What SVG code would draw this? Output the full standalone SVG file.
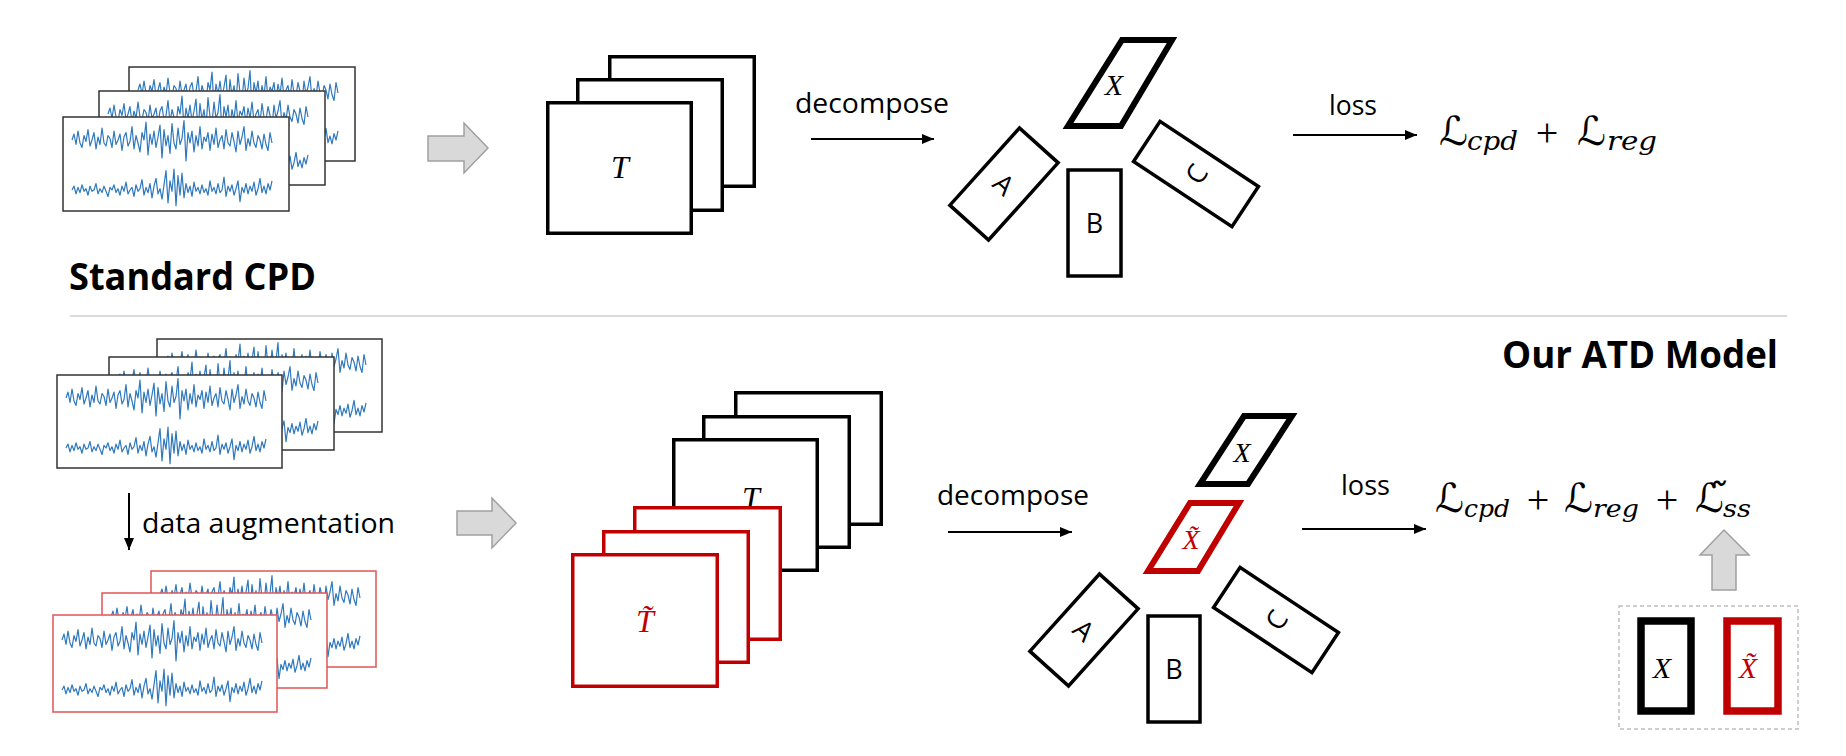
<svg xmlns="http://www.w3.org/2000/svg" xmlns:xlink="http://www.w3.org/1999/xlink" width="1846" height="756" viewBox="0 0 1846 756">
<style>
.bg{fill:#ffffff}
.panel{fill:#ffffff;stroke:#333333;stroke-width:1.5}
.rpanel{fill:#ffffff;stroke:#e05555;stroke-width:1.5}
.wave{fill:none;stroke:#2e78bd;stroke-width:1.2;stroke-linejoin:round}
.tk{fill:#ffffff;stroke:#000000;stroke-width:3.5}
.tr{fill:#ffffff;stroke:#c00000;stroke-width:3.5}
.fac{fill:#ffffff;stroke:#000000;stroke-width:3.5}
.thick{fill:#ffffff;stroke:#000000;stroke-width:6}
.thickr{fill:#ffffff;stroke:#c00000;stroke-width:6}
.gray{fill:#d9d9d9;stroke:#a0a0a0;stroke-width:1.5}
.conn{stroke:#000000;stroke-width:2;fill:none}
.sans{font-family:"Open Sans","Liberation Sans",sans-serif;fill:#000000}
.bold{font-family:"Open Sans","Liberation Sans",sans-serif;font-weight:bold;fill:#000000}
.mi{font-family:"Liberation Serif","DejaVu Serif",serif;font-style:italic;fill:#000000}
.sub{font-family:"DejaVu Serif","Liberation Serif",serif;font-style:italic;fill:#000000}
.rm{font-family:"Liberation Serif","DejaVu Serif",serif;fill:#000000}
.cal{font-family:"DejaVu Serif","DejaVu Sans",serif;font-style:italic;fill:#000000}
.red{fill:#c00000}
</style>
<defs>
<marker id="ah" markerUnits="userSpaceOnUse" markerWidth="13" markerHeight="11" refX="12" refY="5" orient="auto">
<path d="M0,0 L12,5 L0,10 Z" fill="#000000"/>
</marker>
<g id="wave">
<polyline class="wave" vector-effect="non-scaling-stroke" transform="matrix(1,0,0,1.5,0,-11.5)" points="0,23 2,19 4,26 6,17 8,25 10,28 12,20 14,24 16,16 18,27 20,23 22,18 24,29 26,21 28,26 30,15 32,25 34,27 36,20 38,22 40,28 42,17 44,26 46,23 48,19 50,30 52,21 54,18 56,27 58,24 60,14 62,29 64,20 66,25 68,31 70,18 72,23 74,11 76,33 78,19 80,26 82,17 84,28 86,21 88,13 90,35 92,16 94,27 96,20 98,32 100,12 102,25 104,29 106,15 108,26 110,22 112,10 114,37 116,18 118,25 120,17 122,31 124,20 126,27 128,14 130,29 132,21 134,24 136,18 138,30 140,19 142,26 144,15 146,28 148,23 150,20 152,29 154,16 156,25 158,27 160,18 162,24 164,31 166,17 168,26 170,21 172,14 174,30 176,22 178,27 180,17 182,25 184,28 186,20 188,23 190,29 192,19 194,26 196,30 198,18 200,25"/>
<polyline class="wave" vector-effect="non-scaling-stroke" transform="matrix(1,0,0,1.3,0,-21.9)" points="0,73 2,70 4,76 6,71 8,75 10,69 12,74 14,72 16,77 18,70 20,74 22,73 24,68 26,76 28,72 30,75 32,70 34,74 36,78 38,71 40,73 42,69 44,75 46,72 48,77 50,70 52,74 54,67 56,76 58,73 60,71 62,78 64,69 66,74 68,72 70,65 72,77 74,71 76,75 78,68 80,79 82,70 84,64 86,76 88,72 90,80 92,69 94,58 96,83 98,66 100,74 102,57 104,85 106,62 108,77 110,60 112,79 114,68 116,75 118,70 120,78 122,67 124,74 126,71 128,76 130,69 132,75 134,72 136,77 138,66 140,74 142,71 144,76 146,68 148,75 150,73 152,63 154,78 156,70 158,74 160,69 162,77 164,72 166,66 168,82 170,71 172,75 174,68 176,76 178,70 180,74 182,67 184,77 186,72 188,64 190,75 192,70 194,76 196,68 198,73 200,66"/>
</g>
</defs>
<rect class="bg" x="0" y="0" width="1846" height="756"/>

<!-- ===== Upper: Standard CPD ===== -->
<g id="series-upper">
<rect class="panel" x="129" y="67" width="226" height="94"/>
<use xlink:href="#wave" x="138" y="67"/>
<rect class="panel" x="99" y="91" width="226" height="94"/>
<use xlink:href="#wave" x="108" y="91"/>
<rect class="panel" x="63" y="117" width="226" height="94"/>
<use xlink:href="#wave" x="72" y="117"/>
</g>
<g id="label-standard">
<text class="bold" x="69" y="290" font-size="37" textLength="247" lengthAdjust="spacingAndGlyphs">Standard CPD</text>
</g>
<g id="gray-arrow-upper">
<polygon class="gray" points="428,136 464,136 464,123 488,148 464,173 464,161 428,161"/>
</g>
<g id="tensor-upper">
<rect class="tk" x="609.75" y="56.75" width="144.5" height="129.5"/>
<rect class="tk" x="577.75" y="79.75" width="144.5" height="130.5"/>
<rect class="tk" x="547.75" y="102.75" width="143.5" height="130.5"/>
<text class="mi" x="620" y="178" font-size="32" text-anchor="middle">T</text>
</g>
<g id="X-upper">
<polygon class="thick" points="1122,40 1172,40 1121,126 1068,126"/>
<text class="mi" x="1114" y="95" font-size="30" text-anchor="middle">X</text>
</g>
<g id="A-upper" transform="translate(1004,184) rotate(42)">
<rect class="fac" x="-26" y="-52" width="52" height="104"/>
<text class="sans" x="0" y="10" font-size="27" text-anchor="middle">A</text>
</g>
<g id="B-upper">
<rect class="fac" x="1068" y="170" width="53" height="106"/>
<text class="sans" x="1094.5" y="233" font-size="27" text-anchor="middle">B</text>
</g>
<g id="C-upper" transform="translate(1196,174) rotate(-56.5)">
<rect class="fac" x="-24" y="-59" width="48" height="118"/>
<text class="sans" x="0" y="10" font-size="27" text-anchor="middle">C</text>
</g>
<g id="formula-upper">
<text class="cal" x="1439" y="145" font-size="40" textLength="29" lengthAdjust="spacingAndGlyphs">ℒ</text>
<text class="sub" x="1467" y="150" font-size="26" textLength="51" lengthAdjust="spacingAndGlyphs">cpd</text>
<text class="rm" x="1547" y="146" font-size="40" text-anchor="middle">+</text>
<text class="cal" x="1577" y="145" font-size="40" textLength="29" lengthAdjust="spacingAndGlyphs">ℒ</text>
<text class="sub" x="1607" y="150" font-size="26" textLength="50" lengthAdjust="spacingAndGlyphs">reg</text>
</g>

<!-- separator -->
<line x1="70" y1="316" x2="1787" y2="316" stroke="#d0d0d0" stroke-width="1.5"/>

<!-- ===== Lower: Our ATD Model ===== -->
<g id="label-atd">
<text class="bold" x="1502" y="368" font-size="37" textLength="276" lengthAdjust="spacingAndGlyphs">Our ATD Model</text>
</g>
<g id="series-lower">
<rect class="panel" x="157" y="339" width="225" height="93"/>
<use xlink:href="#wave" x="166" y="339"/>
<rect class="panel" x="109" y="357" width="225" height="93"/>
<use xlink:href="#wave" x="118" y="357"/>
<rect class="panel" x="57" y="375" width="225" height="93"/>
<use xlink:href="#wave" x="66" y="375"/>
</g>
<g id="label-augment">
<text class="sans" x="142" y="533" font-size="27" textLength="253" lengthAdjust="spacingAndGlyphs">data augmentation</text>
</g>
<g id="series-augmented">
<rect class="rpanel" x="151" y="571" width="225" height="96"/>
<use xlink:href="#wave" x="160" y="572"/>
<rect class="rpanel" x="102" y="593" width="225" height="95"/>
<use xlink:href="#wave" x="111" y="594"/>
<rect class="rpanel" x="53" y="615" width="224" height="97"/>
<use xlink:href="#wave" x="62" y="617"/>
</g>
<g id="gray-arrow-lower">
<polygon class="gray" points="457,511 492,511 492,498 516,523 492,548 492,535 457,535"/>
</g>
<g id="tensor-lower">
<rect class="tk" x="735.75" y="392.75" width="145.5" height="131.5"/>
<rect class="tk" x="703.75" y="416.75" width="145.5" height="130.5"/>
<rect class="tk" x="673.75" y="439.75" width="143.5" height="130.5"/>
<text class="mi" x="751" y="509" font-size="32" text-anchor="middle">T</text>
</g>
<g id="tensor-augmented">
<rect class="tr" x="634.75" y="507.75" width="145.5" height="131.5"/>
<rect class="tr" x="603.75" y="531.75" width="144.5" height="130.5"/>
<rect class="tr" x="572.75" y="554.75" width="144.5" height="131.5"/>
<text class="mi red" x="645" y="632" font-size="32" text-anchor="middle">T̃</text>
</g>
<g id="X-lower">
<polygon class="thick" points="1244,416 1292,416 1248,484 1200,484"/>
<text class="mi" x="1242" y="462" font-size="28" text-anchor="middle">X</text>
</g>
<g id="Xt-lower">
<polygon class="thickr" points="1190,503 1239,503 1198,571 1148,571"/>
<text class="mi red" x="1191" y="549" font-size="28" text-anchor="middle">X̃</text>
</g>
<g id="A-lower" transform="translate(1084,630) rotate(42)">
<rect class="fac" x="-26" y="-52" width="52" height="104"/>
<text class="sans" x="0" y="10" font-size="27" text-anchor="middle">A</text>
</g>
<g id="B-lower">
<rect class="fac" x="1148" y="616" width="52" height="106"/>
<text class="sans" x="1174" y="679" font-size="27" text-anchor="middle">B</text>
</g>
<g id="C-lower" transform="translate(1276,620) rotate(-56.5)">
<rect class="fac" x="-24" y="-59" width="48" height="118"/>
<text class="sans" x="0" y="10" font-size="27" text-anchor="middle">C</text>
</g>
<g id="formula-lower">
<text class="cal" x="1435" y="512" font-size="40" textLength="29" lengthAdjust="spacingAndGlyphs">ℒ</text>
<text class="sub" x="1464" y="517" font-size="25" textLength="46" lengthAdjust="spacingAndGlyphs">cpd</text>
<text class="rm" x="1538" y="513" font-size="40" text-anchor="middle">+</text>
<text class="cal" x="1564" y="512" font-size="40" textLength="29" lengthAdjust="spacingAndGlyphs">ℒ</text>
<text class="sub" x="1593" y="517" font-size="25" textLength="46" lengthAdjust="spacingAndGlyphs">reg</text>
<text class="rm" x="1667" y="513" font-size="40" text-anchor="middle">+</text>
<text class="cal" x="1695" y="512" font-size="40">ℒ̃</text>
<text class="sub" x="1723" y="517" font-size="25" textLength="28" lengthAdjust="spacingAndGlyphs">ss</text>
</g>
<g id="gray-arrow-up">
<polygon class="gray" points="1712,590 1712,555 1700,555 1724,530 1749,555 1736,555 1736,590"/>
</g>
<g id="ss-box">
<rect x="1619" y="606" width="179" height="123" fill="none" stroke="#bfbfbf" stroke-width="1.5" stroke-dasharray="4,3"/>
<rect x="1641" y="621" width="50" height="90" fill="#ffffff" stroke="#000000" stroke-width="7.5"/>
<rect x="1727" y="621" width="51" height="90" fill="#ffffff" stroke="#c00000" stroke-width="7.5"/>
<text class="mi" x="1662" y="678" font-size="30" text-anchor="middle">X</text>
<text class="mi red" x="1748" y="678" font-size="30" text-anchor="middle">X̃</text>
</g>

<!-- ===== Connectors ===== -->
<g id="connectors">
<line class="conn" x1="811" y1="139" x2="934" y2="139" marker-end="url(#ah)"/>
<line class="conn" x1="1293" y1="135" x2="1417" y2="135" marker-end="url(#ah)"/>
<line class="conn" x1="948" y1="532" x2="1072" y2="532" marker-end="url(#ah)"/>
<line class="conn" x1="1302" y1="529" x2="1426" y2="529" marker-end="url(#ah)"/>
<line class="conn" x1="129" y1="493" x2="129" y2="550" marker-end="url(#ah)"/>
</g>
<g id="connector-labels">
<text class="sans" x="795" y="113" font-size="27" textLength="154" lengthAdjust="spacingAndGlyphs">decompose</text>
<text class="sans" x="1329" y="115" font-size="27" textLength="48" lengthAdjust="spacingAndGlyphs">loss</text>
<text class="sans" x="937" y="505" font-size="27" textLength="152" lengthAdjust="spacingAndGlyphs">decompose</text>
<text class="sans" x="1341" y="495" font-size="27" textLength="49" lengthAdjust="spacingAndGlyphs">loss</text>
</g>
</svg>
